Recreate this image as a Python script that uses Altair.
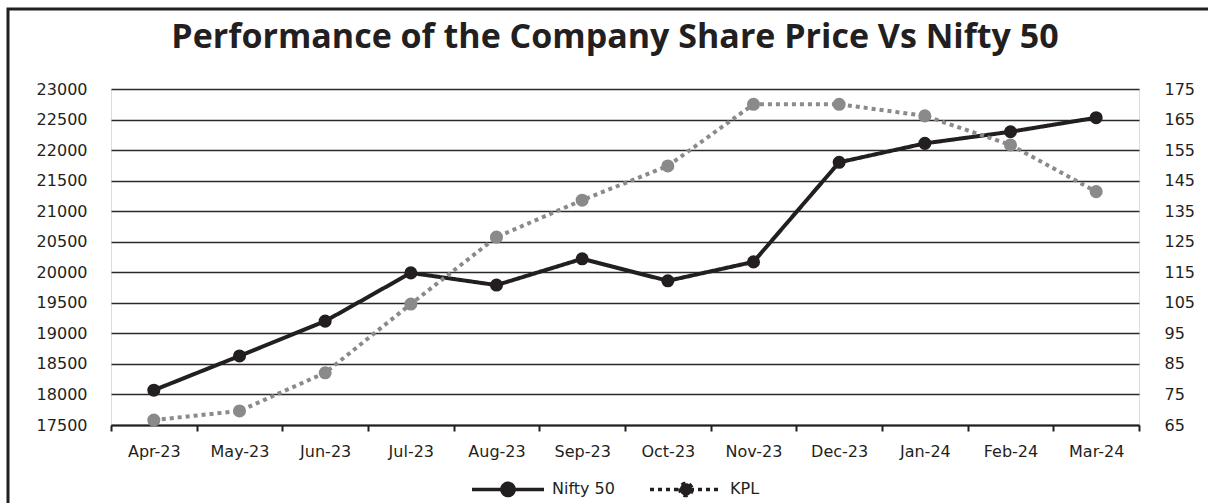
import altair as alt
import pandas as pd

months = ["Apr-23", "May-23", "Jun-23", "Jul-23", "Aug-23", "Sep-23",
          "Oct-23", "Nov-23", "Dec-23", "Jan-24", "Feb-24", "Mar-24"]
nifty = [18070, 18630, 19200, 19990, 19790, 20220, 19860, 20170, 21800, 22110, 22300, 22530]
kpl = [66.6, 69.6, 82.1, 104.6, 126.5, 138.6, 149.8, 170.0, 170.0, 166.2, 156.7, 141.4]
left_ticks = list(range(17500, 23001, 500))
right_ticks = list(range(65, 176, 10))
series = ["Nifty 50", "KPL"]

df_n = pd.DataFrame({"month": months, "value": nifty, "series": series[0]})
df_k = pd.DataFrame({"month": months, "value": kpl, "series": series[1]})

DARK = "#231f20"
GRAY = "#8a8a8a"
FONT = "DejaVu Sans"

x_enc = alt.X("month:N", sort=months, bandPosition=0.5,
              scale=alt.Scale(type="band", paddingInner=0, paddingOuter=0),
              axis=alt.Axis(title=None, labelAngle=0, labelFont=FONT, labelFontSize=16,
                            labelColor=DARK, domainColor=DARK, domainWidth=2,
                            tickColor=DARK, tickWidth=2, tickSize=6, tickBand="extent",
                            labelPadding=12, grid=False))

legend_path = ("M-1,0L1,0M0.17,0A0.17,0.17,0,1,1,-0.17,0A0.17,0.17,0,1,1,0.17,0Z")
dash_scale = alt.Scale(domain=series, range=[[1, 0], [4, 4]])
dash_legend = alt.Legend(title=None, orient="none", legendX=359, legendY=362,
                         direction="horizontal", padding=0,
                         symbolType=legend_path, symbolSize=5184, symbolStrokeWidth=3.5,
                         symbolStrokeColor=DARK, symbolFillColor=DARK,
                         labelFont=FONT, labelFontSize=16, labelColor=DARK,
                         labelOffset=6, columnPadding=28)

left_y = alt.Y("value:Q", scale=alt.Scale(domain=[17500, 23000], zero=False, nice=False),
               axis=alt.Axis(title=None, values=left_ticks, orient="left", grid=True,
                             format="d",
                             gridColor="#2a2a2a", gridWidth=1.3, domain=False, ticks=False,
                             labelFont=FONT, labelFontSize=16, labelColor=DARK,
                             labelPadding=24))
right_y = alt.Y("value:Q", scale=alt.Scale(domain=[65, 175], zero=False, nice=False),
                axis=alt.Axis(title=None, values=right_ticks, orient="right", grid=False,
                              format="d", domain=False, ticks=False,
                              labelFont=FONT, labelFontSize=16, labelColor=DARK,
                              labelPadding=25))

n_line = alt.Chart(df_n).mark_line(color=DARK, strokeWidth=4).encode(
    x=x_enc, y=left_y,
    strokeDash=alt.StrokeDash("series:N", scale=dash_scale, legend=dash_legend))
n_pts = alt.Chart(df_n).mark_point(filled=True, size=170, color=DARK, opacity=1).encode(
    x=x_enc, y=left_y)
k_line = alt.Chart(df_k).mark_line(color=GRAY, strokeWidth=4).encode(
    x=x_enc, y=right_y,
    strokeDash=alt.StrokeDash("series:N", scale=dash_scale, legend=dash_legend))
k_pts = alt.Chart(df_k).mark_point(filled=True, size=170, color=GRAY, opacity=1).encode(
    x=x_enc, y=right_y)

border = alt.Chart(pd.DataFrame({"b": [0]})).mark_rect(
    fill=None, stroke=DARK, strokeWidth=3).encode(
    x=alt.value(-103), x2=alt.value(1110), y=alt.value(-80), y2=alt.value(430))

left = alt.layer(n_line, n_pts)
right = alt.layer(k_line, k_pts)

chart = alt.layer(left, right, border).resolve_scale(y="independent").properties(
    width=1028, height=336,
    autosize=alt.AutoSizeParams(type="none"),
    padding={"left": 111, "top": 89, "right": 69, "bottom": 78},
    title=alt.TitleParams("Performance of the Company Share Price Vs Nifty 50",
                          font="Open Sans", fontSize=34, fontWeight="bold", color=DARK,
                          anchor="middle", frame="group", dx=-10, dy=34, offset=-40,
                          baseline="alphabetic"),
).configure_view(stroke=None).configure(background="white")

chart.save("out.html", embed_options={"renderer": "svg", "actions": False})
